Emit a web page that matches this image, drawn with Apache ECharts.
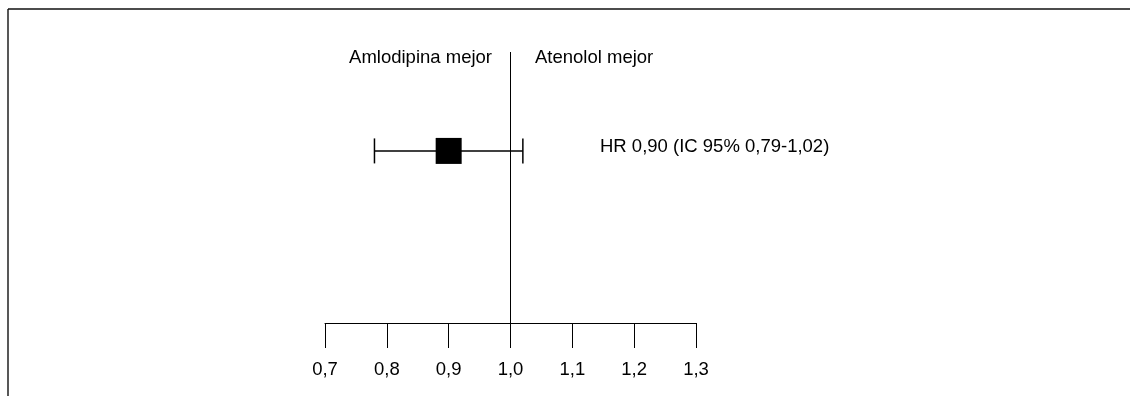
<!DOCTYPE html>
<html>
<head>
<meta charset="utf-8">
<script src="https://cdn.jsdelivr.net/npm/echarts@6/dist/echarts.min.js"></script>
<style>
  html, body { margin: 0; padding: 0; background: #fff; }
  #chart { width: 1130px; height: 396px; }
</style>
</head>
<body>
<div id="chart"></div>
<script>
    // datos del forest plot
    var xTicks = [0.7, 0.8, 0.9, 1.0, 1.1, 1.2, 1.3];
    var refValue = 1.0;
    var hr = [0.90];
    var ciLow = [0.78];
    var ciHigh = [1.02];
    var rowY = [0.635];
    var hrLabel = 'HR 0,90 (IC 95% 0,79-1,02)';
    var leftLabel = 'Amlodipina mejor';
    var rightLabel = 'Atenolol mejor';

    var font = 'Liberation Sans, Arial, sans-serif';
    var fsize = 18.5;
    var chart = echarts.init(document.getElementById('chart'));

    var fmt = function (v) { return v.toFixed(1).replace('.', ','); };

    var option = {
        animation: false,
        grid: { left: 325, right: 434, top: 52, bottom: 73 },
        xAxis: {
            type: 'value',
            min: xTicks[0],
            max: xTicks[xTicks.length - 1],
            interval: 0.1,
            splitLine: { show: false },
            axisLine: { lineStyle: { color: '#000', width: 1 } },
            axisTick: { show: true, length: 25, lineStyle: { color: '#000', width: 1 } },
            axisLabel: {
                margin: 37,
                color: '#000',
                fontFamily: font,
                fontSize: fsize,
                formatter: fmt
            }
        },
        yAxis: {
            type: 'value', min: 0, max: 1, show: false
        },
        graphic: [
            { type: 'line', shape: { x1: 8, y1: 9, x2: 1130, y2: 9 }, style: { stroke: '#111', lineWidth: 1.4 } },
            { type: 'line', shape: { x1: 8, y1: 9, x2: 8, y2: 396 }, style: { stroke: '#111', lineWidth: 1.4 } },
            { type: 'text', right: 1130 - 492, top: 48, style: { text: leftLabel, font: fsize + 'px ' + font, fill: '#000' } },
            { type: 'text', left: 535, top: 48, style: { text: rightLabel, font: fsize + 'px ' + font, fill: '#000' } },
            { type: 'text', left: 600, top: 137, style: { text: hrLabel, font: fsize + 'px ' + font, fill: '#000' } }
        ],
        series: [
            {
                // linea de no efecto
                type: 'line',
                data: [[refValue, 0], [refValue, 1]],
                symbol: 'none',
                lineStyle: { color: '#000', width: 1 },
                z: 1
            },
            {
                type: 'custom',
                data: hr.map(function (v, i) { return [ciLow[i], ciHigh[i], rowY[i]]; }),
                renderItem: function (params, api) {
                    var p1 = api.coord([api.value(0), api.value(2)]);
                    var p2 = api.coord([api.value(1), api.value(2)]);
                    var h = 12.5;
                    var st = { stroke: '#000', lineWidth: 1.5 };
                    return {
                        type: 'group',
                        children: [
                            { type: 'line', shape: { x1: p1[0], y1: p1[1], x2: p2[0], y2: p2[1] }, style: st },
                            { type: 'line', shape: { x1: p1[0], y1: p1[1] - h, x2: p1[0], y2: p1[1] + h }, style: st },
                            { type: 'line', shape: { x1: p2[0], y1: p2[1] - h, x2: p2[0], y2: p2[1] + h }, style: st }
                        ]
                    };
                },
                z: 2
            },
            {
                type: 'scatter',
                data: hr.map(function (v, i) { return [v, rowY[i]]; }),
                symbol: 'rect',
                symbolSize: 26,
                itemStyle: { color: '#000', opacity: 1 },
                z: 3
            }
        ]
    };
    chart.setOption(option);
</script>
</body>
</html>
